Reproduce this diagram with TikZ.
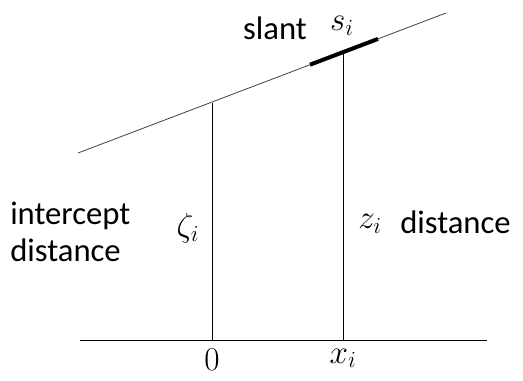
\documentclass[tikz,border=0pt]{standalone}
\usepackage{fontspec}
\setsansfont{Carlito}
\usepackage{tikz}
\usetikzlibrary{positioning, calc}

\begin{document}
\begin{tikzpicture}[
    x=0.75pt, y=-0.75pt,
    thinline/.style={line width=0.6pt},
    word/.style={font=\fontsize{24.5}{28}\selectfont\sffamily},
    sym/.style={font=\fontsize{27}{30}\selectfont}
]
    \useasboundingbox (0,0) rectangle (523,380);

    % Punkte der Grundlinie und der schiefen Linie
    \coordinate (bl) at (80,340);
    \coordinate (br) at (487,340);
    \coordinate (o)  at (212,340);
    \coordinate (xi) at (343,340);
    \coordinate (sl) at (78,153);
    \coordinate (sr) at (446,13);
    \coordinate (zt) at (212,102.6);
    \coordinate (st) at (343,52.2);
    \coordinate (sa) at (310,64.7);
    \coordinate (sb) at (378,38.9);

    % Linien
    \draw [thinline] (bl) -- (br);
    \draw [thinline, black!75] (sl) -- (sr);
    \draw [thinline] (o) -- (zt);
    \draw [thinline] (xi) -- (st);
    \draw [line width=3pt] (sa) -- (sb);

    % Beschriftungen
    \node [word] (slant) at (275,28) {slant};
    \node [sym] (si) at (342,26) {$s_i$};
    \node [word, align=left, anchor=west, inner sep=0pt] (icpt) at (10,232) {intercept\\distance};
    \node [sym] (zeta) at (188,228) {$\zeta_i$};
    \node [sym] (zi) at (370,224) {$z_i$};
    \node [word, anchor=east, inner sep=0pt] (dist) at (511,222) {distance};
    \node [sym, below=3pt of o] (zero) {$0$};
    \node [sym, below=3pt of xi] (xlab) {$x_i$};
\end{tikzpicture}
\end{document}
